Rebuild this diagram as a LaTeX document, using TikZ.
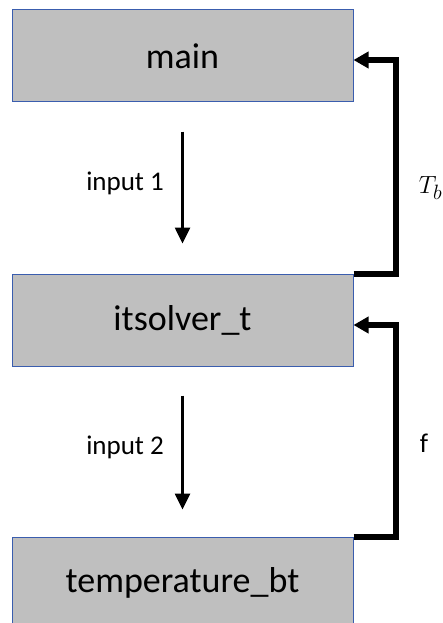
\documentclass[tikz,border=0pt]{standalone}
\usepackage{fontspec}
\setmainfont{Carlito}
\usetikzlibrary{arrows.meta}
\usepackage{xcolor}
\definecolor{cedge}{HTML}{3A5DAE}
\definecolor{cgray}{HTML}{BFBFBF}

\begin{document}
\begin{tikzpicture}[
  x=1pt, y=-1pt,
  arr/.style  = {-{Triangle[length=16pt, width=15pt]}, line width=2.6pt},
  fb/.style   = {-{Triangle[length=15pt, width=16pt]}, line width=6pt, line join=miter},
  mbox/.style = {rectangle, draw=cedge, fill=cgray, line width=1pt,
                 minimum width=341pt, minimum height=92pt,
                 font=\fontsize{36}{40}\selectfont},
  lbl/.style  = {font=\fontsize{27}{30}\selectfont}
]
\useasboundingbox (0,0) rectangle (443,623);

%% -- Nodes ------------------------------------------------------------
\node[mbox] (main) at (182.5,  56) {main};
\node[mbox] (its)  at (182.5, 320) {itsolver\_t};
\node[mbox] (temp) at (182.5, 583) {temperature\_bt};

%% -- Arrows -----------------------------------------------------------
% main -> itsolver_t
\draw[arr] ([yshift=-29pt]main.south) -- ([yshift=30pt]its.north)
  node[lbl, midway, left=14pt, yshift=4pt] {input 1};

% itsolver_t -> temperature_bt
\draw[arr] ([yshift=-29pt]its.south) -- ([yshift=27pt]temp.north)
  node[lbl, midway, left=14pt, yshift=5pt] {input 2};

% feedback itsolver_t -> main
\draw[fb] (its.north east) -- ++(42,0) |- ([yshift=-4pt]main.east)
  node[lbl, pos=0.2, right=17pt] {\fontsize{30}{32}\selectfont$T_b$};

% feedback temperature_bt -> itsolver_t
\draw[fb] (temp.north east) -- ++(42,0) |- ([yshift=-5pt]its.east)
  node[lbl, pos=0.22, right=18pt] {f};

\end{tikzpicture}
\end{document}
